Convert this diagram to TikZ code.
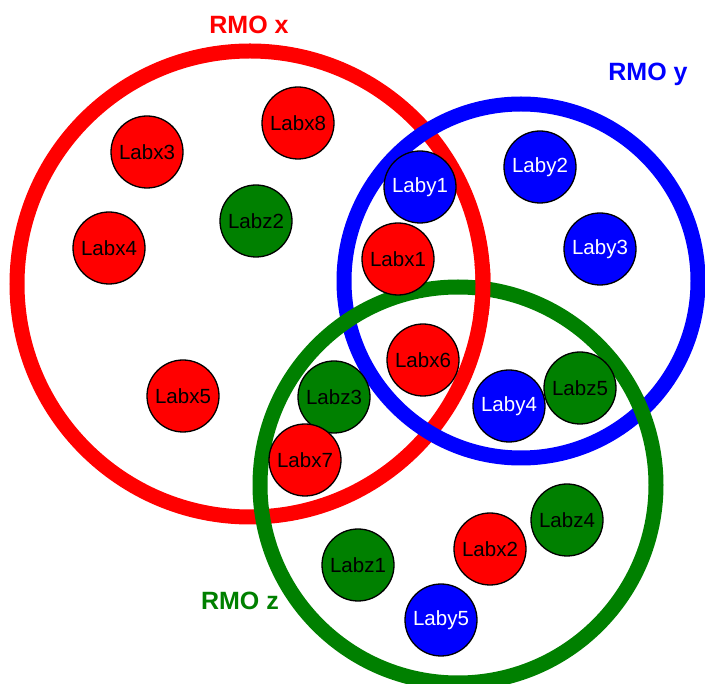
\documentclass[tikz,border=0pt]{standalone}
\usepackage{fontspec}
\setmainfont{Liberation Sans}
\definecolor{cred}{RGB}{255,0,0}
\definecolor{cblue}{RGB}{0,0,255}
\definecolor{cgreen}{RGB}{0,128,0}
\tikzset{
  ring/.style={line width=15pt},
  lab/.style={circle, draw=black, line width=1.3pt, minimum size=72pt, inner sep=0pt, font=\fontsize{20.5}{20.5}\selectfont},
  xl/.style={lab, fill=cred, text=black},
  yl/.style={lab, fill=cblue, text=white},
  zl/.style={lab, fill=cgreen, text=black},
  ttl/.style={font=\fontsize{25}{25}\selectfont\bfseries}
}
\begin{document}
\begin{tikzpicture}[x=1pt,y=-1pt]
\useasboundingbox (0,0) rectangle (705,684);
\clip (0,0) rectangle (705,684);
\draw[ring, cred] (250,284) circle (233);
\draw[ring, cblue] (521,281) circle (177);
\draw[ring, cgreen] (458,485) circle (198);
\begin{scope}
\clip (465,265) rectangle (505,315);
\draw[ring, cred] (250,284) circle (233);
\end{scope}
\node[ttl, text=cred] (tx) at (249,25) {RMO x};
\node[ttl, text=cblue] (ty) at (648,74) {RMO y};
\node[ttl, text=cgreen] (tz) at (240,601) {RMO z};
\node[xl] (x3) at (147,152) {Labx3};
\node[xl] (x8) at (298,123) {Labx8};
\node[zl] (z2) at (256,221) {Labz2};
\node[xl] (x4) at (109,248) {Labx4};
\node[yl] (y1) at (420,187) {Laby1};
\node[yl] (y2) at (540,167) {Laby2};
\node[yl] (y3) at (600,249) {Laby3};
\node[xl] (x1) at (398,259) {Labx1};
\node[xl] (x6) at (423,360) {Labx6};
\node[xl] (x5) at (183,396) {Labx5};
\node[zl] (z3) at (334,397) {Labz3};
\node[xl] (x7) at (305,460) {Labx7};
\node[yl] (y4) at (509,406) {Laby4};
\node[zl] (z5) at (580,388) {Labz5};
\node[zl] (z4) at (567,520) {Labz4};
\node[xl] (x2) at (490,549) {Labx2};
\node[zl] (z1) at (358,565) {Labz1};
\node[yl] (y5) at (441,620) {Laby5};
\end{tikzpicture}
\end{document}
